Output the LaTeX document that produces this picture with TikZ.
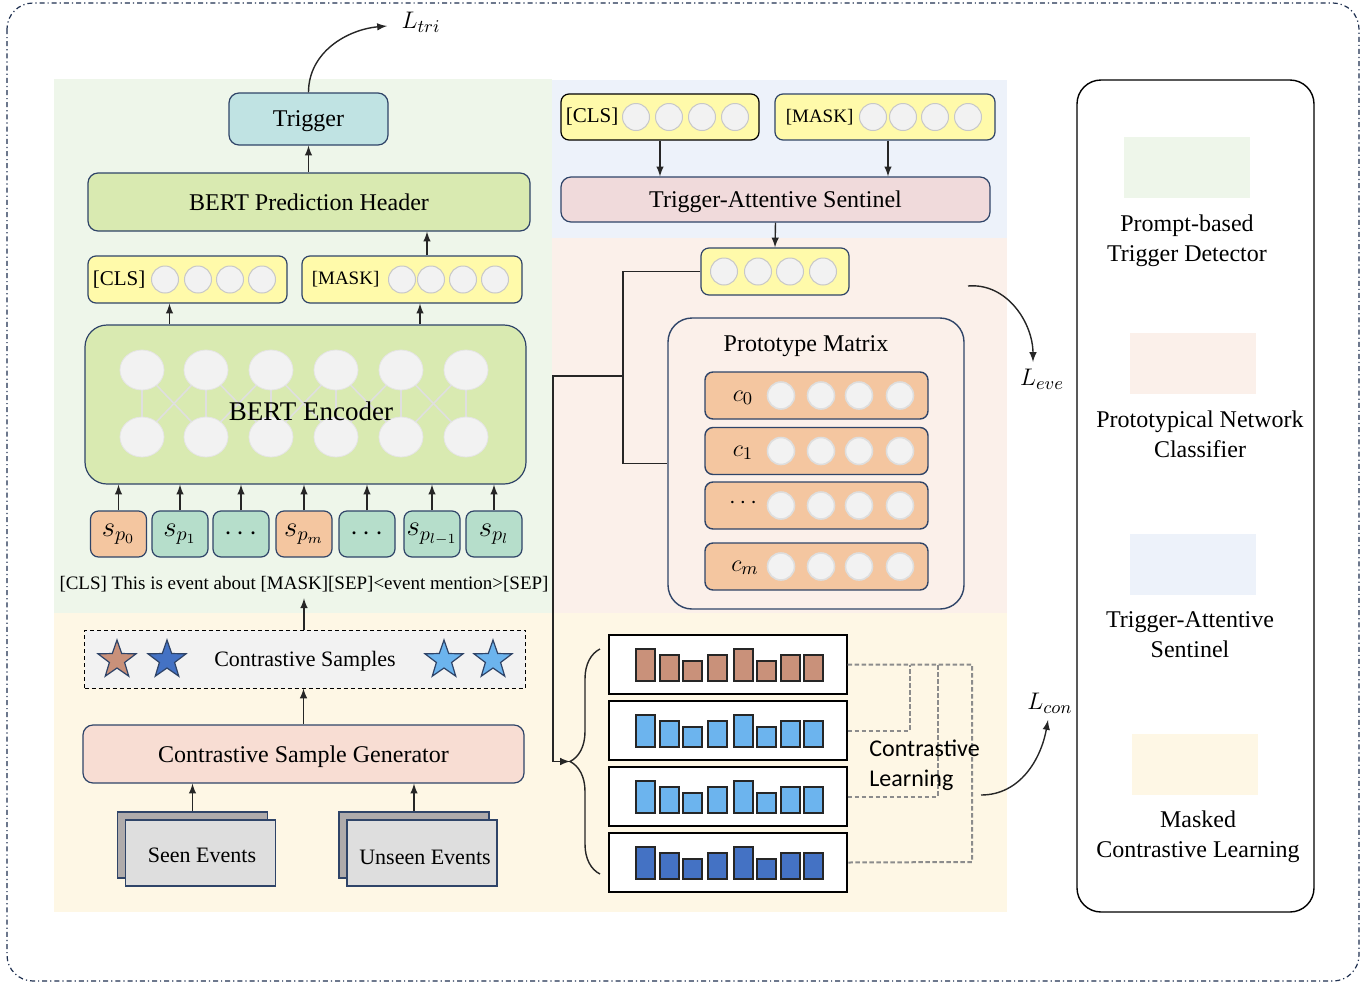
\documentclass[tikz,border=0pt]{standalone}
\usepackage{fontspec}
\setmainfont{Liberation Serif}
\newfontfamily\clfont{Carlito}
\usepackage{xcolor}
\usepackage{tikz}
\usetikzlibrary{positioning,shapes,shadows,arrows,decorations.pathreplacing}

\definecolor{boxline}{HTML}{2F4468}
\definecolor{framecol}{HTML}{1F3050}
\definecolor{bggreen}{HTML}{EEF6EA}
\definecolor{bgblue}{HTML}{EDF2FA}
\definecolor{bgpink}{HTML}{FBF0EA}
\definecolor{bgyellow}{HTML}{FEF7E5}
\definecolor{bertgreen}{HTML}{D9EAB1}
\definecolor{trigteal}{HTML}{C0E3E3}
\definecolor{vecyellow}{HTML}{FFFAAA}
\definecolor{tokorange}{HTML}{F4C6A0}
\definecolor{tokteal}{HTML}{B6DECB}
\definecolor{taspink}{HTML}{F0DADB}
\definecolor{genpink}{HTML}{F8DDD3}
\definecolor{sampgray}{HTML}{F2F2F2}
\definecolor{dotfill}{HTML}{F2F2F2}
\definecolor{dotline}{HTML}{C8C8C8}
\definecolor{docback}{HTML}{AFABAB}
\definecolor{docfront}{HTML}{DEDEDE}
\definecolor{barbrown}{HTML}{C9917A}
\definecolor{barlight}{HTML}{6CB4EE}
\definecolor{barblue}{HTML}{4472C4}
\definecolor{linkgray}{HTML}{8C8C8C}

\tikzstyle{module}=[rectangle, draw=boxline, line width=0.6pt, rounded corners=5pt,
        text centered, text depth=0pt, font=\fontsize{12}{14}\selectfont]
\tikzstyle{vecbox}=[rectangle, draw=boxline, line width=0.6pt, rounded corners=4pt,
        fill=vecyellow, minimum height=23.5pt]
\tikzstyle{unitdot}=[circle, draw=dotline, fill=dotfill, line width=0.5pt, minimum size=13.5pt]
\tikzstyle{token}=[rectangle, draw=boxline, line width=0.6pt, rounded corners=4pt,
        minimum width=28pt, minimum height=23pt, font=\fontsize{14}{16}\selectfont]
\tikzstyle{protorow}=[rectangle, draw=boxline, line width=0.7pt, rounded corners=4pt,
        fill=tokorange, minimum width=111.5pt, minimum height=23.5pt]
\tikzstyle{protodot}=[circle, draw=dotline!60, fill=dotfill, line width=0.8pt, minimum size=13.5pt]
\tikzstyle{docsheet}=[rectangle, draw=boxline, line width=0.6pt, minimum width=75pt,
        minimum height=33pt, text depth=0pt, font=\fontsize{11}{13}\selectfont]
\tikzstyle{starmark}=[star, star points=5, star point ratio=2.5, draw=boxline,
        line width=0.6pt, minimum size=20pt]
\tikzstyle{barbox}=[rectangle, draw=black, fill=white, line width=0.7pt,
        minimum width=119pt, minimum height=29.5pt]
\tikzstyle{swatch}=[rectangle, minimum width=63pt, minimum height=30.5pt]
\tikzstyle{keytext}=[align=center, font=\fontsize{12}{15}\selectfont]
\tikzstyle{wire}=[draw=black!85, line width=0.7pt]
\tikzstyle{linkdash}=[draw=linkgray, line width=1pt, dash pattern=on 2.2pt off 1.3pt]
\tikzstyle{loss}=[font=\fontsize{13}{15}\selectfont]

\begin{document}
\begin{tikzpicture}[x=0.5pt, y=-0.5pt, >=latex, node distance=7pt,
    every node/.style={inner sep=0pt}]
        \useasboundingbox (0,0) rectangle (1372,986);
        % module areas
        \fill[bggreen] (54,79) rectangle (552,613);
        \fill[bgblue] (552,80) rectangle (1007,238);
        \fill[bgpink] (552,238) rectangle (1007,613);
        \fill[bgyellow] (54,613) rectangle (1007,912);
        \draw[framecol, line width=0.6pt, rounded corners=13pt,
          dash pattern=on 2.5pt off 1.5pt on 0.6pt off 1.5pt] (7,3) rectangle (1359,981);

        % prompt-based trigger detector
        \node (Trigger) [module, fill=trigteal, minimum width=79.5pt, minimum height=26pt]
          at (308.5,119) {Trigger};
        \node (Header) [module, fill=bertgreen, minimum width=221pt, minimum height=29pt]
          at (309,202) {BERT Prediction Header};
        \node (ClsLeft) [vecbox, minimum width=99.5pt] at (187.5,279.5) {};
        \node [anchor=west, font=\fontsize{10.5}{12}\selectfont] at ([xshift=2.5pt]ClsLeft.west) {[CLS]};
        \foreach \cx in {165,198,230,262} \node [unitdot] at (\cx,279.5) {};
        \node (MaskLeft) [vecbox, minimum width=110pt] at (412,279.5) {};
        \node [anchor=west, font=\fontsize{9.5}{12}\selectfont] at ([xshift=5pt]MaskLeft.west) {[MASK]};
        \foreach \cx in {402,431,463,495} \node [unitdot] at (\cx,279.5) {};

        \node (Encoder) [module, fill=bertgreen, rounded corners=11pt, minimum width=220.5pt,
          minimum height=79.5pt] at (305.5,404.5) {};
        \foreach \cx in {142,206,271,336,401,466}
          \draw[gray!25, line width=0.8pt] (\cx,370) -- (\cx,437);
        \foreach \cx/\nx in {142/206,206/271,271/336,336/401,401/466} {
          \draw[gray!25, line width=0.8pt] (\cx,370) -- (\nx,437);
          \draw[gray!25, line width=0.8pt] (\nx,370) -- (\cx,437);
        }
        \foreach \cx in {142,206,271,336,401,466} {
          \draw[fill=dotfill, draw=gray!20] (\cx,370) ellipse (11pt and 10pt);
          \draw[fill=dotfill, draw=gray!20] (\cx,437) ellipse (11pt and 10pt);
        }
        \node [font=\fontsize{13.5}{15}\selectfont] at (311,411) {BERT Encoder};

        \node (Sp0) [token, fill=tokorange] at (118.5,534) {$s_{p_0}$};
        \node (Sp1) [token, fill=tokteal] at (180,534) {$s_{p_1}$};
        \node (DotsA) [token, fill=tokteal] at (241,534) {$\cdots$};
        \node (Spm) [token, fill=tokorange] at (304,534) {$s_{p_m}$};
        \node (DotsB) [token, fill=tokteal] at (367,534) {$\cdots$};
        \node (Spl1) [token, fill=tokteal] at (432,534) {$s_{p_{l-1}}$};
        \node (Spl) [token, fill=tokteal] at (494,534) {$s_{p_l}$};
        \foreach \tk in {Sp0,Sp1,DotsA,Spm,DotsB,Spl1,Spl}
          \draw[wire, ->] (\tk.north) -- (\tk.north |- Encoder.south);
        \draw[wire, ->] ([xshift=-9pt]ClsLeft.south |- Encoder.north) -- ([xshift=-9pt]ClsLeft.south);
        \draw[wire, ->] ([xshift=4pt]MaskLeft.south |- Encoder.north) -- ([xshift=4pt]MaskLeft.south);
        \draw[wire, ->] ([xshift=7.5pt]MaskLeft.north) -- ([xshift=7.5pt]MaskLeft.north |- Header.south);
        \draw[wire, ->] (Header.north -| Trigger.south) -- (Trigger.south);

        \node (Prompt) [font=\fontsize{9.5}{11}\selectfont] at (304,584)
          {[CLS] This is event about [MASK][SEP]<event mention>[SEP]};

        % masked contrastive learning
        \node (Samples) [rectangle, draw=black, fill=sampgray, line width=0.5pt,
          dash pattern=on 2pt off 1.5pt, minimum width=220.5pt, minimum height=29pt,
          text depth=0pt, font=\fontsize{11}{13}\selectfont]
          at (305,659) {Contrastive Samples};
        \node (StarA) [starmark, fill=barbrown] at (117,660) {};
        \node (StarB) [starmark, fill=barblue] at (167,660) {};
        \node (StarC) [starmark, fill=barlight] at (444,660) {};
        \node (StarD) [starmark, fill=barlight] at (493,660) {};
        \draw[wire, ->, shorten >=3pt] (Samples.north -| Prompt.south) -- (Prompt.south);

        \node (Generator) [module, fill=genpink, minimum width=220.5pt, minimum height=29pt]
          at (303.5,754) {Contrastive Sample Generator};
        \draw[wire, ->] (Generator.north) -- (Generator.north |- Samples.south);

        \node (SeenBack) [docsheet, fill=docback] at (192.5,845) {};
        \node (Seen) [docsheet, fill=docfront] at (200.5,853) {};
        \node [font=\fontsize{11}{13}\selectfont] at (202,855) {Seen Events};
        \node (UnseenBack) [docsheet, fill=docback] at (414,845) {};
        \node (Unseen) [docsheet, fill=docfront] at (422,853) {};
        \node [font=\fontsize{11}{13}\selectfont] at (425,857) {Unseen Events};
        \draw[wire, ->] (SeenBack.north) -- (SeenBack.north |- Generator.south);
        \draw[wire, ->] (UnseenBack.north) -- (UnseenBack.north |- Generator.south);

        % trigger-attentive sentinel
        \node (ClsRight) [vecbox, draw=black, minimum width=99pt, minimum height=23pt] at (660,117) {};
        \node [anchor=west, font=\fontsize{10.5}{12}\selectfont] at ([xshift=2.5pt]ClsRight.west) {[CLS]};
        \foreach \cx in {636,669,702,735} \node [unitdot] at (\cx,117) {};
        \node (MaskRight) [vecbox, minimum width=110pt, minimum height=23pt] at (885,117) {};
        \node [anchor=west, font=\fontsize{9.5}{12}\selectfont] at ([xshift=5.5pt]MaskRight.west) {[MASK]};
        \foreach \cx in {873,903,935,968} \node [unitdot] at (\cx,117) {};
        \node (Sentinel) [module, fill=taspink, minimum width=214.5pt, minimum height=22.5pt]
          at (775.5,199.5) {Trigger-Attentive Sentinel};
        \draw[wire, ->] (ClsRight.south) -- (ClsRight.south |- Sentinel.north);
        \draw[wire, ->] ([xshift=1.5pt]MaskRight.south) -- ([xshift=1.5pt]MaskRight.south |- Sentinel.north);

        % prototypical network classifier
        \node (EventVec) [vecbox, minimum width=74pt] at (775,271.5) {};
        \foreach \cx in {724,758,790,823} \node [unitdot] at (\cx,271.5) {};
        \draw[wire, ->] (Sentinel.south) -- (EventVec.north);

        \node (Proto) [rectangle, draw=boxline, line width=0.7pt, rounded corners=12pt,
          minimum width=148pt, minimum height=145.5pt] at (816,463.5) {};
        \node (ProtoTitle) [font=\fontsize{12}{14}\selectfont] at (806,346) {Prototype Matrix};
        \node (RowA) [protorow] at (816.5,395.5) {};
        \node (RowB) [protorow] at (816.5,451) {};
        \node (RowC) [protorow] at (816.5,505.5) {};
        \node (RowD) [protorow] at (816.5,566.5) {};
        \node [loss] at (743,398) {$c_0$};
        \node [loss] at (743,453) {$c_1$};
        \node [loss] at (743,503) {$\cdots$};
        \node [loss] at (745,568) {$c_m$};
        \foreach \row/\ry in {RowA/395.5,RowB/451,RowC/505.5,RowD/566.5}
          \foreach \cx in {781,821,859,900} \node [protodot] at (\cx,\ry) {};

        \coordinate (Split) at (623,376);
        \coordinate (BraceTip) at (570,761.5);
        \draw[wire] (EventVec.west) -| (Split) |- (Proto.west);
        \draw[wire, ->] (Split) -- (553,376) |- (BraceTip);
        \draw[wire, decorate, decoration={brace, amplitude=15pt}] (600,874) -- (600,649);

        % contrastive learning on sample features
        \node (BarsA) [barbox] at (728,664.5) {};
        \node (BarsB) [barbox] at (728,730.5) {};
        \node (BarsC) [barbox] at (728,796.5) {};
        \node (BarsD) [barbox] at (728,862.5) {};
        \foreach \row/\col in {0/barbrown,1/barlight,2/barlight,3/barblue}
          \foreach \bx/\bh in {636/32,660/26,683/20,708/26,734/32,757/20,781/26,804/26}
            \draw[fill=\col, draw=black!85, line width=0.7pt] (\bx,{681+66*\row}) rectangle ++(19,-\bh);
        \draw[linkdash] (BarsA.east) -| (972,862) -- (BarsD.east);
        \draw[linkdash] (BarsB.east) -| (910,665);
        \draw[linkdash] (BarsC.east) -| (938,665);
        \node (ClLabel) [anchor=west, align=left, font=\clfont\fontsize{12}{15}\selectfont]
          at (869,765) {Contrastive\\Learning};

        % losses
        \node (LossTri) [loss] at (421,22) {$L_{tri}$};
        \node (LossEve) [loss] at (1042,379) {$L_{eve}$};
        \node (LossCon) [loss] at (1050,703) {$L_{con}$};
        \coordinate (EveStart) at (968,286);
        \coordinate (ConStart) at (981,795);
        \draw[wire, ->] (Trigger.north) to[out=90, in=185] (387,26);
        \draw[wire, ->] (EveStart) to[out=5, in=90] (1033,362);
        \draw[wire, ->] (ConStart) to[out=0, in=-100] (1048,720);

        % legend
        \node (Legend) [rectangle, draw=black, fill=white, line width=0.7pt, rounded corners=12pt,
          minimum width=118.5pt, minimum height=416pt] at (1195.5,496) {};
        \node (KeyTrig) [swatch, fill=bggreen] at (1187,167.5) {};
        \node (KeyProto) [swatch, fill=bgpink] at (1193,363.5) {};
        \node (KeySent) [swatch, fill=bgblue] at (1193,564.5) {};
        \node (KeyMask) [swatch, fill=bgyellow] at (1195,764) {};
        \node [keytext, below=8pt of KeyTrig] {Prompt-based\\Trigger Detector};
        \node [keytext, below=8pt of KeyProto, xshift=3.5pt] {Prototypical Network\\Classifier};
        \node [keytext, below=8pt of KeySent, xshift=-1.5pt] {Trigger-Attentive\\Sentinel};
        \node [keytext, below=8pt of KeyMask, xshift=1.5pt] {Masked\\Contrastive Learning};
      \end{tikzpicture}
\end{document}
